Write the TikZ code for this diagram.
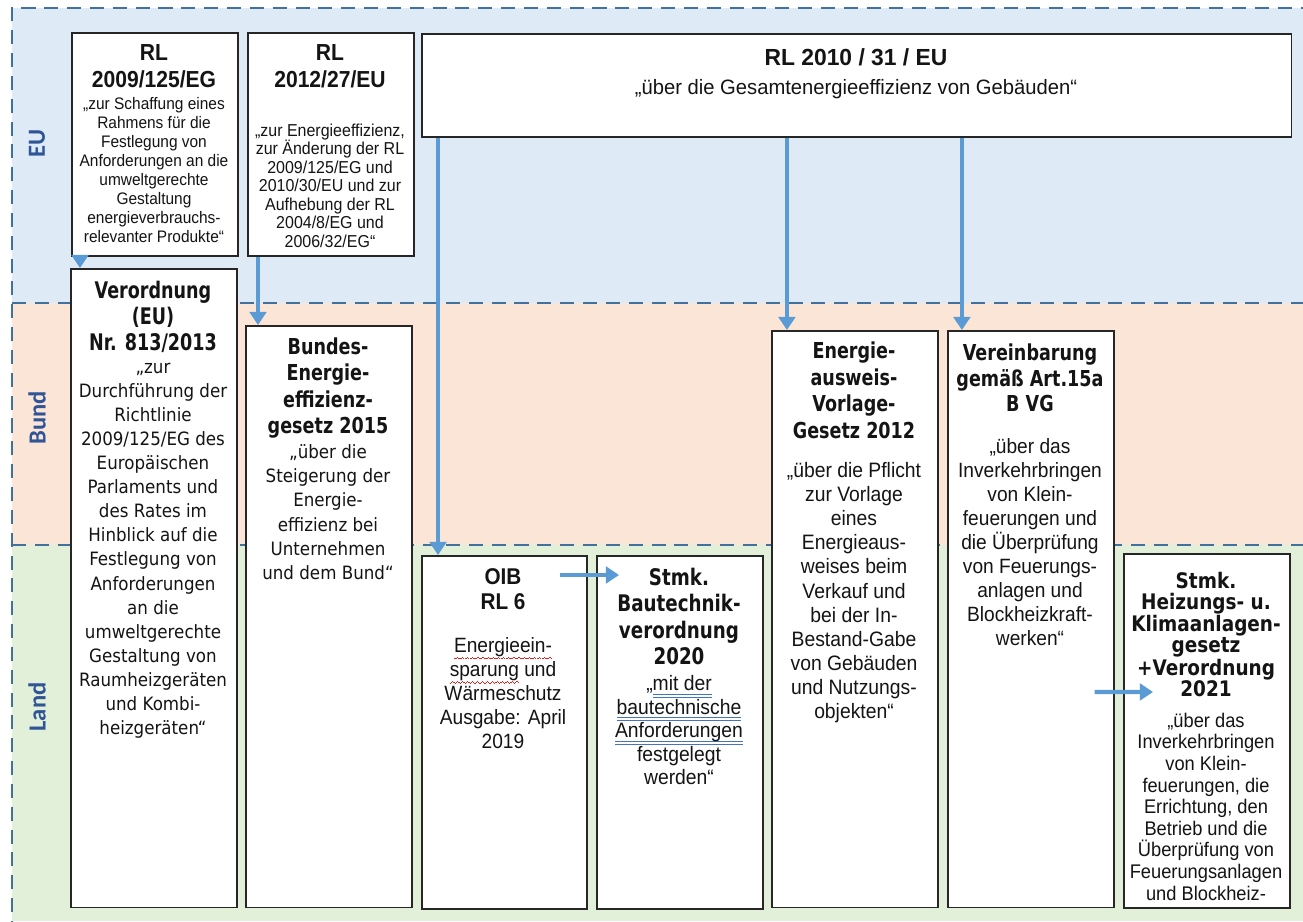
\documentclass[tikz,border=0pt]{standalone}
\usepackage{fontspec}
\setmainfont{Liberation Sans}
\newfontfamily\dvs{DejaVu Sans}
\newfontfamily\crl{Carlito}
\usetikzlibrary{arrows.meta}
\definecolor{euband}{RGB}{222,235,247}
\definecolor{bundband}{RGB}{251,229,214}
\definecolor{landband}{RGB}{226,240,218}
\definecolor{dashcol}{RGB}{65,113,156}
\definecolor{arrcol}{RGB}{91,155,213}
\definecolor{labcol}{RGB}{47,85,151}
\definecolor{spellred}{RGB}{230,30,30}
\definecolor{spellblue}{RGB}{68,114,196}
\definecolor{txtcol}{RGB}{20,20,20}
\newsavebox\ulbox
\newcommand\redwave[1]{\sbox\ulbox{#1}\rlap{\color{spellred}\hbox to\wd\ulbox{\xleaders\hbox{\rule[-3.7pt]{0.7pt}{0.5pt}\rule[-3.2pt]{0.7pt}{0.5pt}\rule[-2.7pt]{0.7pt}{0.5pt}\rule[-3.2pt]{0.7pt}{0.5pt}}\hfil}}\usebox\ulbox}
\newcommand\bluedbl[1]{\sbox\ulbox{#1}\rlap{\color{spellblue}\rule[-2.3pt]{\wd\ulbox}{0.5pt}}\rlap{\color{spellblue}\rule[-3.8pt]{\wd\ulbox}{0.5pt}}\usebox\ulbox}
\tikzset{
  dashln/.style={draw=dashcol, line width=1.5pt, dash pattern=on 8pt off 5pt},
  lawbox/.style={draw=black!85, line width=0.9pt, fill=white, inner sep=0pt, anchor=north west},
  txt/.style={inner sep=0pt, align=center, anchor=north, text=txtcol},
  band/.style={font=\crl\bfseries\fontsize{14}{16}\selectfont, text=labcol, rotate=90, inner sep=0pt},
  arr/.style={draw=arrcol, line width=2.4pt, -{Triangle[width=9.5pt,length=7.5pt]}},
}
% text node stretched vertically: name, x, y(top), yscale, font, text
\newcommand\snode[6]{\begin{scope}[shift={(#2,#3)},yscale=#4]\node[txt,transform shape,font=#5] (#1) at (0,0) {#6};\end{scope}}
\begin{document}
\begin{tikzpicture}[x=0.02cm,y=-0.02cm]
\useasboundingbox (0,0) rectangle (1303,921);
\clip (0,0) rectangle (1303,921);
% bands
\fill[euband] (12,8) rectangle (1303,303);
\fill[bundband] (12,303) rectangle (1303,545);
\fill[landband] (12,545) rectangle (1303,921);
\draw[dashln] (12,935) -- (12,8) -- (1310,8);
\draw[dashln] (12,303) -- (1310,303);
\draw[dashln] (12,545) -- (1310,545);
% band labels
\node[band] (leu) at (37,143) {EU};
\node[band] (lbund) at (37,418) {Bund};
\node[band] (lland) at (37,707) {Land};
% boxes
\node[lawbox, minimum width=3.32cm, minimum height=4.46cm] (r09) at (71,32) {};
\node[lawbox, minimum width=3.32cm, minimum height=4.46cm] (r12) at (247,32) {};
\node[lawbox, minimum width=17.4cm, minimum height=2.06cm] (r10) at (421,33) {};
\node[lawbox, minimum width=3.32cm, minimum height=12.78cm] (vo) at (70,268) {};
\node[lawbox, minimum width=3.32cm, minimum height=11.64cm] (be) at (245,325) {};
\node[lawbox, minimum width=3.30cm, minimum height=7.06cm] (oib) at (421,555) {};
\node[lawbox, minimum width=3.32cm, minimum height=7.06cm] (stb) at (596,555) {};
\node[lawbox, minimum width=3.32cm, minimum height=11.54cm] (ea) at (771,330) {};
\node[lawbox, minimum width=3.32cm, minimum height=11.54cm] (vb) at (947,330) {};
\node[lawbox, minimum width=3.32cm, minimum height=7.08cm] (hk) at (1123,553) {};
% texts
\snode{r09h}{154}{44}{1.1}{\bfseries\fontsize{12}{13.9}\selectfont}{RL\\2009/125/EG}
\snode{r09b}{154}{97}{1.08}{\fontsize{8.8}{10}\selectfont}{„zur Schaffung eines\\Rahmens für die\\Festlegung von\\Anforderungen an die\\umweltgerechte\\Gestaltung\\energieverbrauchs-\\relevanter Produkte“}
\snode{r12h}{330}{44}{1.1}{\bfseries\fontsize{12}{13.9}\selectfont}{RL\\2012/27/EU}
\snode{r12b}{330}{123.5}{1.08}{\fontsize{9.1}{9.72}\selectfont}{„zur Energieeffizienz,\\zur Änderung der RL\\2009/125/EG und\\2010/30/EU und zur\\Aufhebung der RL\\2004/8/EG und\\2006/32/EG“}
\snode{r10h}{856}{48}{1.02}{\bfseries\fontsize{13}{15}\selectfont}{RL 2010 / 31 / EU}
\snode{r10b}{856}{79}{1.03}{\fontsize{11.5}{14}\selectfont}{„über die Gesamtenergieeffizienz von Gebäuden“}
\snode{voh}{153}{281}{1.3}{\dvs\bfseries\fontsize{10}{11.3}\selectfont}{Verordnung\\(EU)\\Nr. 813/2013}
\snode{vob}{153}{362.8}{1.1}{\dvs\fontsize{9.5}{12.45}\selectfont}{„zur\\Durchführung der\\Richtlinie\\2009/125/EG des\\Europäischen\\Parlaments und\\des Rates im\\Hinblick auf die\\Festlegung von\\Anforderungen\\an die\\umweltgerechte\\Gestaltung von\\Raumheizgeräten\\und Kombi-\\heizgeräten“}
\snode{beh}{328}{337.6}{1.25}{\dvs\bfseries\fontsize{10}{11.9}\selectfont}{Bundes-\\Energie-\\effizienz-\\gesetz 2015}
\snode{beb}{328}{444.5}{1.1}{\dvs\fontsize{9.5}{12.45}\selectfont}{„über die\\Steigerung der\\Energie-\\effizienz bei\\Unternehmen\\und dem Bund“}
\snode{oibh}{503}{568}{1.1}{\bfseries\fontsize{11.8}{12.9}\selectfont}{OIB\\RL 6}
\snode{oibb}{503}{637}{1.08}{\fontsize{10.9}{12.7}\selectfont}{\redwave{Energieein-}\\\redwave{sparung} und\\Wärmeschutz\\Ausgabe: April\\2019}
\snode{stbh}{679}{568}{1.25}{\dvs\bfseries\fontsize{10.4}{11.9}\selectfont}{Stmk.\\Bautechnik-\\verordnung\\2020}
\snode{stbb}{679}{675}{1.08}{\fontsize{11}{12.4}\selectfont}{„\bluedbl{mit der}\\\bluedbl{bautechnische}\\\bluedbl{Anforderungen}\\festgelegt\\werden“}
\snode{eah}{854}{341.6}{1.25}{\dvs\bfseries\fontsize{10}{12.1}\selectfont}{Energie-\\ausweis-\\Vorlage-\\Gesetz 2012}
\snode{eab}{854}{462}{1.08}{\fontsize{11}{12.7}\selectfont}{„über die Pflicht\\zur Vorlage\\eines\\Energieaus-\\weises beim\\Verkauf und\\bei der In-\\Bestand-Gabe\\von Gebäuden\\und Nutzungs-\\objekten“}
\snode{vbh}{1030}{343.3}{1.25}{\dvs\bfseries\fontsize{10}{11.7}\selectfont}{Vereinbarung\\gemäß Art.15a\\B VG}
\snode{vbb}{1030}{437.8}{1.08}{\fontsize{10.9}{12.7}\selectfont}{„über das\\Inverkehrbringen\\von Klein-\\feuerungen und\\die Überprüfung\\von Feuerungs-\\anlagen und\\Blockheizkraft-\\werken“}
\snode{hkh}{1206}{571.8}{1.16}{\dvs\bfseries\fontsize{10.5}{10.1}\selectfont}{Stmk.\\Heizungs- u.\\Klimaanlagen-\\gesetz\\+Verordnung\\2021}
\snode{hkb}{1206}{712.5}{1.08}{\fontsize{10.4}{11.4}\selectfont}{„über das\\Inverkehrbringen\\von Klein-\\feuerungen, die\\Errichtung, den\\Betrieb und die\\Überprüfung von\\Feuerungsanlagen\\und Blockheiz-}
% arrows
\draw[arr] ([xshift=0.18cm]r09.south west) -- ([xshift=0.18cm]r09.south west |- vo.north);
\draw[arr] ([xshift=0.22cm]r12.south west) -- ([xshift=0.22cm]r12.south west |- be.north);
\draw[arr] ([xshift=0.34cm]r10.south west) -- ([xshift=0.34cm]r10.south west |- oib.north);
\draw[arr] ([xshift=7.32cm]r10.south west) -- ([xshift=7.32cm]r10.south west |- ea.north);
\draw[arr] ([xshift=10.82cm]r10.south west) -- ([xshift=10.82cm]r10.south west |- vb.north);
\draw[arr] ([shift={(-0.56cm,-0.4cm)}]oib.north east) -- ([shift={(0.46cm,-0.4cm)}]stb.north west);
\draw[arr] ([shift={(-0.4cm,-7.24cm)}]vb.north east) -- ([shift={(0.6cm,-2.78cm)}]hk.north west);
\end{tikzpicture}
\end{document}
